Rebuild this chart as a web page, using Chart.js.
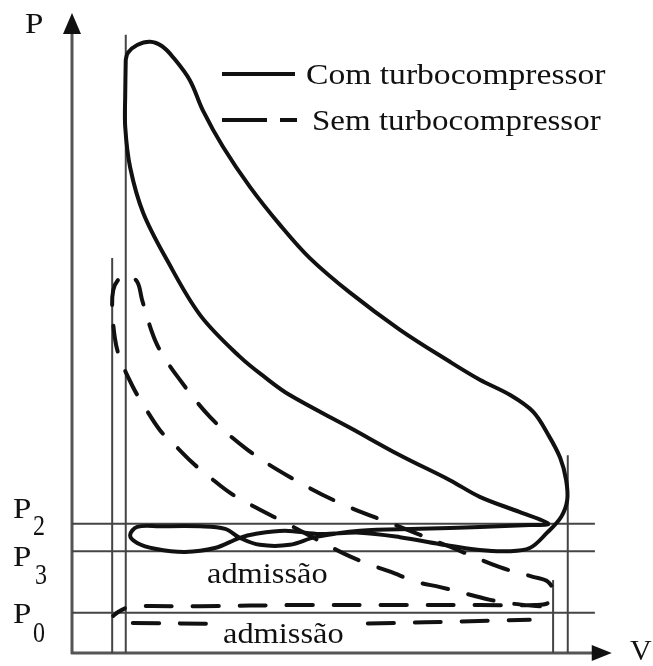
<!DOCTYPE html>
<html lang="pt">
<head>
<meta charset="utf-8">
<title>Diagrama P-V</title>
<script src="https://cdn.jsdelivr.net/npm/chart.js@4.4.1/dist/chart.umd.min.js"></script>
<style>
  html, body { margin: 0; padding: 0; background: #fff; }
  #pv { display: block; }
</style>
</head>
<body>
<canvas id="pv" width="653" height="666"></canvas>
<script>
"use strict";

// Ciclo com turbocompressor: volume (V) e pressão (P), escala relativa 0-100
const turboV = [9.9, 10.3, 12.0, 14.4, 16.6, 18.6, 21.7, 24.1, 27.8, 32.8, 38.3, 43.8, 51.2, 60.4, 69.6, 75.1,
  80.7, 84.9, 87.7, 89.9, 91.0, 91.2, 90.1, 87.5, 84.3, 80.1, 75.1, 67.8, 60.4, 53.0, 45.7, 39.2, 33.7, 30.9,
  26.3, 20.8, 15.3, 12.0, 10.7, 12.0, 16.2, 23.6, 28.2, 30.9, 34.6, 40.1, 44.8, 53.0, 64.1, 75.1, 84.3, 87.7,
  82.5, 75.1, 69.6, 60.4, 51.2, 40.1, 35.5, 30.9, 23.6, 17.5, 13.1, 10.7, 9.8, 9.8, 9.9];
const turboP = [92.7, 93.8, 95.0, 95.5, 94.8, 93.1, 89.5, 84.8, 79.1, 72.8, 66.9, 61.7, 56.3, 50.5, 45.5, 42.7,
  40.3, 37.7, 34.1, 30.5, 27.0, 23.9, 21.3, 18.8, 16.4, 15.9, 16.1, 17.0, 18.1, 18.8, 18.6, 19.1, 18.6, 18.0,
  16.4, 15.8, 16.3, 17.2, 18.4, 19.7, 19.8, 19.8, 19.4, 18.0, 16.9, 16.9, 18.1, 19.1, 19.4, 19.7, 20.0, 20.2,
  22.0, 24.4, 27.0, 30.9, 35.2, 40.3, 43.1, 46.3, 52.8, 61.4, 68.8, 75.9, 82.2, 87.2, 92.7];

// Ciclo sem turbocompressor (aspiração natural)
const semV = [86.2, 81.2, 77.0, 73.3, 67.8, 63.5, 58.6, 54.9, 49.9, 40.1, 29.7, 24.9, 22.1, 18.0, 16.2, 12.9,
  11.2, 8.8, 7.9, 7.4, 7.6, 8.5, 10.1, 12.0, 12.9, 14.7, 16.2, 19.5, 25.4, 32.4, 40.1, 49.4, 60.4, 69.6, 78.8,
  84.9, 87.7, 88.8, 87.7, 85.3, 75.1, 60.4, 42.0, 23.6, 11.2, 9.8, 8.5, 7.6];
const semP = [7.3, 7.7, 8.3, 9.1, 10.3, 11.1, 12.7, 13.8, 15.6, 20.0, 24.7, 27.8, 29.8, 33.3, 34.8, 39.1,
  41.6, 46.1, 49.2, 54.1, 56.7, 58.3, 59.1, 58.0, 55.2, 50.2, 47.3, 43.1, 36.9, 31.7, 27.5, 23.4, 19.7, 16.6,
  13.4, 11.9, 11.1, 9.1, 7.8, 7.5, 7.5, 7.5, 7.5, 7.3, 7.3, 7.0, 6.4, 5.8];

// linha de admissão sem turbo
const semAdmV = [11.2, 45.7, 84.3];
const semAdmP = [4.7, 4.5, 5.2];

// níveis de pressão P2, P3, P0
const levelNames = ['P2', 'P3', 'P0'];
const levelValues = [20.2, 15.9, 6.3];
const levelEnd = 96.3;

// pontos mortos (PMS / PMI) de cada ciclo e altura das linhas
const deadV = [7.4, 9.9, 88.6, 91.3];
const deadTop = [61.7, 96.6, 11.4, 30.9];

const pts = (xs, ys) => xs.map((v, i) => ({ x: v, y: ys[i] }));

const curve = {
  showLine: true,
  pointRadius: 0,
  borderColor: '#111',
  borderWidth: 4,
  tension: 0.35,
  borderJoinStyle: 'round',
  borderCapStyle: 'round'
};

const thin = {
  showLine: true,
  pointRadius: 0,
  borderColor: '#444',
  borderWidth: 2,
  tension: 0
};

const datasets = [
  { ...curve, label: 'Com turbocompressor', data: pts(turboV, turboP) },
  { ...curve, label: 'Sem turbocompressor', data: pts(semV, semP), borderDash: [26, 21] },
  { ...curve, label: 'admissão', data: pts(semAdmV, semAdmP), borderDash: [26, 21] }
];
levelValues.forEach((p, i) => {
  datasets.push({ ...thin, label: levelNames[i], data: [{ x: 0, y: p }, { x: levelEnd, y: p }] });
});
deadV.forEach((v, i) => {
  datasets.push({ ...thin, label: 'PM' + i, data: [{ x: v, y: 0 }, { x: v, y: deadTop[i] }] });
});

const SERIF = '"Liberation Serif", "Times New Roman", serif';

function text(ctx, str, x, y, size, sx) {
  ctx.save();
  ctx.font = size + 'px ' + SERIF;
  ctx.translate(x, y);
  ctx.scale(sx, 1);
  ctx.fillText(str, 0, 0);
  ctx.restore();
}

// eixos com setas, rótulos e legenda
const pvDecor = {
  id: 'pvDecor',
  beforeDatasetsDraw(chart) {
    const { ctx, scales: { x, y } } = chart;
    const x0 = x.getPixelForValue(0);
    const y0 = y.getPixelForValue(0);
    const xEnd = x.getPixelForValue(99.4);
    const yEnd = y.getPixelForValue(100);
    ctx.save();
    ctx.strokeStyle = '#555';
    ctx.lineWidth = 3;
    ctx.beginPath();
    ctx.moveTo(x0, y0 + 1);
    ctx.lineTo(x0, yEnd + 15);
    ctx.moveTo(x0 - 1, y0);
    ctx.lineTo(xEnd - 15, y0);
    ctx.stroke();
    ctx.fillStyle = '#111';
    ctx.beginPath();
    ctx.moveTo(x0, yEnd);
    ctx.lineTo(x0 - 9, yEnd + 21);
    ctx.lineTo(x0 + 9, yEnd + 21);
    ctx.closePath();
    ctx.fill();
    ctx.beginPath();
    ctx.moveTo(xEnd, y0);
    ctx.lineTo(xEnd - 20, y0 - 8);
    ctx.lineTo(xEnd - 20, y0 + 8);
    ctx.closePath();
    ctx.fill();
    ctx.restore();
  },
  afterDatasetsDraw(chart) {
    const { ctx } = chart;
    ctx.save();
    ctx.fillStyle = '#111';

    // rótulos dos eixos
    text(ctx, 'P', 25, 33, 30, 1.1);
    text(ctx, 'V', 630, 660, 30, 1.0);

    // níveis de pressão
    text(ctx, 'P', 13, 518, 30, 1.1);
    text(ctx, '2', 33, 535, 30, 0.8);
    text(ctx, 'P', 13, 566, 30, 1.1);
    text(ctx, '3', 35, 584, 30, 0.8);
    text(ctx, 'P', 13, 623, 30, 1.1);
    text(ctx, '0', 33, 642, 30, 0.8);

    // admissão
    text(ctx, 'admissão', 207, 583, 30, 1.08);
    ctx.fillStyle = '#fff';
    ctx.fillRect(219, 617, 135, 31);
    ctx.fillStyle = '#111';
    text(ctx, 'admissão', 223, 643, 30, 1.08);

    // legenda
    ctx.strokeStyle = '#111';
    ctx.lineWidth = 4;
    ctx.beginPath();
    ctx.moveTo(222, 74);
    ctx.lineTo(295, 74);
    ctx.stroke();
    ctx.setLineDash([45, 13]);
    ctx.beginPath();
    ctx.moveTo(222, 120);
    ctx.lineTo(297, 120);
    ctx.stroke();
    ctx.setLineDash([]);
    text(ctx, 'Com turbocompressor', 306, 84, 30, 1.12);
    text(ctx, 'Sem turbocompressor', 312, 130, 30, 1.1);
    ctx.restore();
  }
};

new Chart(document.getElementById('pv'), {
  type: 'scatter',
  data: { datasets },
  options: {
    responsive: false,
    animation: false,
    events: [],
    layout: { padding: { left: 72, right: 38, top: 13, bottom: 13 } },
    scales: {
      x: { type: 'linear', min: 0, max: 100, display: false },
      y: { type: 'linear', min: 0, max: 100, display: false }
    },
    plugins: {
      legend: { display: false },
      tooltip: { enabled: false }
    }
  },
  plugins: [pvDecor]
});
</script>
</body>
</html>
